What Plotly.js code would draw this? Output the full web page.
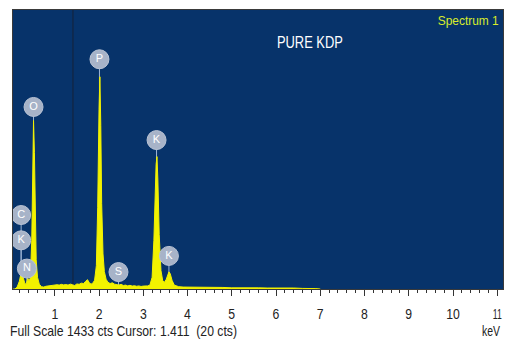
<!DOCTYPE html>
<html>
<head>
<meta charset="utf-8">
<script src="https://cdn.plot.ly/plotly-3.0.1.min.js"></script>
<style>
  html, body { margin: 0; padding: 0; background: #ffffff; }
  #chart { width: 505px; height: 343px; }
</style>
</head>
<body>
<div id="chart"></div>
<script>
// EDS spectrum of pure KDP: energy (keV) vs counts
const energyKeV = [0.06, 0.10, 0.15, 0.20, 0.23, 0.25, 0.27, 0.30, 0.33, 0.36, 0.39, 0.42, 0.45,
  0.48, 0.50, 0.52, 0.54, 0.56, 0.58, 0.61, 0.65, 0.70, 0.75, 0.80, 0.85, 0.90, 0.95,
  1.00, 1.05, 1.10, 1.15, 1.20, 1.25, 1.30, 1.35, 1.40, 1.45, 1.50, 1.55, 1.60, 1.65,
  1.70, 1.74, 1.78, 1.82, 1.86, 1.90, 1.94, 1.97, 2.00, 2.02, 2.04, 2.06, 2.09, 2.12,
  2.16, 2.20, 2.25, 2.30, 2.35, 2.40, 2.45, 2.50, 2.55, 2.60, 2.65, 2.70, 2.75, 2.80,
  2.85, 2.90, 2.95, 3.00, 3.05, 3.10, 3.15, 3.20, 3.24, 3.27, 3.29, 3.31, 3.33, 3.36,
  3.40, 3.44, 3.48, 3.52, 3.55, 3.58, 3.61, 3.65, 3.70, 3.75, 3.80, 3.90, 4.00, 4.20,
  4.40, 4.60, 4.80, 5.00, 5.20, 5.40, 5.60, 5.80, 6.00, 6.20, 6.40, 6.60, 6.80, 6.90, 7.00];
const counts = [0, 0, 10, 40, 72, 78, 70, 45, 25, 30, 55, 40, 60,
  250, 600, 865, 700, 380, 150, 60, 25, 12, 10, 14, 16, 18, 20,
  19, 22, 20, 24, 21, 23, 20, 25, 22, 18, 26, 24, 30, 28,
  40, 48, 32, 25, 30, 45, 120, 420, 920, 1090, 840, 440, 180, 90,
  50, 35, 28, 32, 25, 22, 20, 24, 18, 20, 16, 19, 15, 17,
  14, 16, 13, 15, 14, 16, 20, 60, 250, 520, 640, 680, 560, 280,
  95, 42, 35, 50, 75, 88, 78, 45, 20, 14, 12, 10, 10, 8,
  9, 7, 8, 6, 7, 5, 6, 5, 6, 4, 5, 3, 4, 2, 0];

// Element line markers
const lineLabels = ['C', 'K', 'N', 'O', 'P', 'K', 'S', 'K'];
const lineKeV = [0.24, 0.24, 0.37, 0.52, 2.01, 3.30, 2.44, 3.58];
const lineCts = [380, 250, 105, 935, 1180, 765, 87, 170];

const fullScale = 1433;
const cursorKeV = 1.411;
const cursorCts = 20;
const xTickVals = [1, 2, 3, 4, 5, 6, 7, 8, 9, 10, 11];

const sans = 'Liberation Sans, Arial, sans-serif';

// connector stems from each badge down to the baseline
const stemX = [], stemY = [];
lineKeV.forEach((e, i) => { stemX.push(e, e, null); stemY.push(lineCts[i], 0, null); });

const traces = [
  {
    x: stemX, y: stemY, mode: 'lines', type: 'scatter',
    line: { color: '#9fb6d6', width: 1 }, hoverinfo: 'skip', showlegend: false
  },
  {
    x: [cursorKeV, cursorKeV], y: [0, fullScale], mode: 'lines', type: 'scatter',
    line: { color: '#13243f', width: 1.2 }, hoverinfo: 'skip', showlegend: false
  },
  {
    x: energyKeV, y: counts, type: 'scatter', mode: 'lines',
    fill: 'tozeroy', fillcolor: '#f2f200',
    line: { color: '#f2f200', width: 1 }, showlegend: false
  },
  {
    x: lineKeV, y: lineCts, type: 'scatter', mode: 'markers+text',
    text: lineLabels, textposition: 'middle center',
    textfont: { family: sans, size: 11, color: '#ffffff' },
    marker: { size: 19, color: '#a7b3c8', line: { color: '#b9c3d4', width: 1 } },
    showlegend: false, hoverinfo: 'skip'
  }
];

const layout = {
  width: 505, height: 343,
  margin: { l: 13, r: 2, t: 10, b: 54 },
  paper_bgcolor: '#ffffff',
  plot_bgcolor: '#07336a',
  showlegend: false,
  xaxis: {
    range: [0.056, 11.13],
    tickvals: xTickVals,
    ticks: 'outside', ticklen: 6, tickwidth: 1, tickcolor: '#333333',
    ticklabelstandoff: 5,
    ticklabeloverflow: 'allow',
    minor: { dtick: 0.2, ticks: 'outside', ticklen: 3, tickcolor: '#333333' },
    showgrid: false, zeroline: false,
    showline: true, linecolor: '#3a3a3a', linewidth: 1, mirror: true,
    tickfont: { family: sans, size: 15, color: '#222222' }
  },
  yaxis: {
    range: [0, fullScale],
    showticklabels: false, ticks: '', showgrid: false, zeroline: false,
    showline: true, linecolor: '#3a3a3a', linewidth: 1, mirror: true
  },
  annotations: [
    {
      text: 'PURE KDP', xref: 'paper', yref: 'paper', x: 0.606, y: 0.885,
      xanchor: 'center', yanchor: 'middle', showarrow: false,
      font: { family: sans, size: 16, color: '#ffffff' }
    },
    {
      text: 'Spectrum 1', xref: 'paper', yref: 'paper', x: 0.928, y: 0.962,
      xanchor: 'center', yanchor: 'middle', showarrow: false,
      font: { family: sans, size: 13, color: '#d8ec2a' }
    },
    {
      text: 'Full Scale ' + fullScale + ' cts Cursor: ' + cursorKeV.toFixed(3) + '  (' + cursorCts + ' cts)',
      xref: 'paper', yref: 'paper', x: 0.2255, y: -0.15,
      xanchor: 'center', yanchor: 'middle', showarrow: false,
      font: { family: sans, size: 15, color: '#222222' }
    },
    {
      text: 'keV', xref: 'paper', yref: 'paper', x: 0.976, y: -0.15,
      xanchor: 'center', yanchor: 'middle', showarrow: false,
      font: { family: sans, size: 14, color: '#222222' }
    }
  ]
};

// narrow the instrument-style lettering by compressing glyph widths
function squeeze(textEl, width) {
  textEl.setAttribute('textLength', width);
  textEl.setAttribute('lengthAdjust', 'spacingAndGlyphs');
}

Plotly.newPlot('chart', traces, layout, { displayModeBar: false, staticPlot: true }).then(gd => {
  gd.querySelectorAll('.xtick text').forEach(t => {
    const s = t.textContent;
    squeeze(t, s === '11' ? 9 : s.length * 6.8);
  });
  const widths = { 'PURE KDP': 66, 'Spectrum 1': 61, 'keV': 18 };
  gd.querySelectorAll('.annotation-text').forEach(t => {
    const s = t.textContent;
    if (widths[s]) squeeze(t, widths[s]);
    else if (s.indexOf('Full Scale') === 0) squeeze(t, 227);
  });
});
</script>
</body>
</html>
